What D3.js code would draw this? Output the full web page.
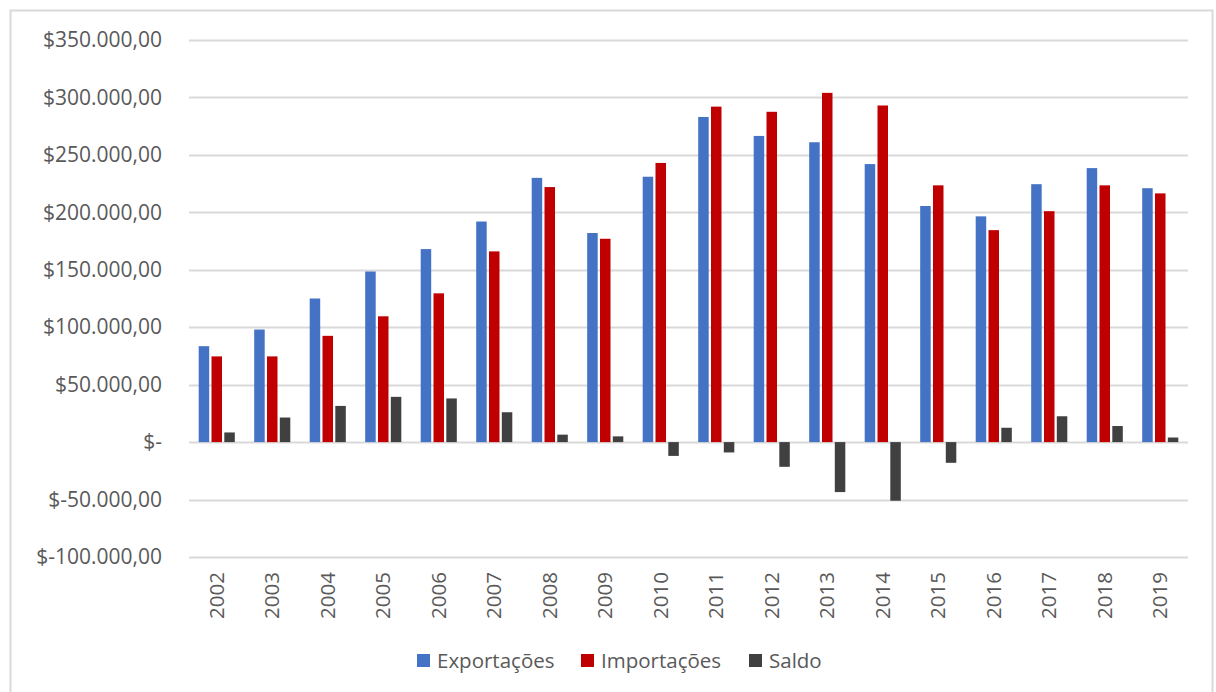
<!DOCTYPE html>
<html>
<head>
<meta charset="utf-8">
<script src="https://cdn.jsdelivr.net/npm/d3@7"></script>
<style>
  body { margin: 0; background: #fff; }
  svg text { font-family: "Open Sans", "Noto Sans", sans-serif; fill: #595959; }
</style>
</head>
<body>
<svg width="1216" height="692"></svg>
<script>
// data
var years = ["2002","2003","2004","2005","2006","2007","2008","2009","2010",
             "2011","2012","2013","2014","2015","2016","2017","2018","2019"];
var exportacoes = [83500, 98000, 125000, 148500, 168000, 192000, 230000, 182000, 231000,
                   283000, 266500, 261000, 242000, 205500, 196500, 224500, 238500, 221000];
var importacoes = [74600, 74600, 92500, 109500, 129500, 166000, 222000, 177000, 243000,
                   292000, 287500, 304000, 293000, 223500, 184500, 201000, 223500, 216500];
var saldo = [8400, 21400, 31500, 39400, 38000, 26000, 6500, 5000, -12000,
             -9000, -21500, -43500, -51000, -18000, 12500, 22500, 14000, 4000];
var seriesNames = ["Exportações", "Importações", "Saldo"];
var seriesColors = ["#4472C4", "#C00000", "#404040"];
var yTicks = [-100000, -50000, 0, 50000, 100000, 150000, 200000, 250000, 300000, 350000];

var svg = d3.select("svg"),
    margin = {top: 40, right: 28, bottom: 135, left: 189},
    w = +svg.attr("width") - margin.left - margin.right,
    h = 557 - margin.top;

// outer frame
svg.append("rect")
    .attr("x", 10.5).attr("y", 10.5)
    .attr("width", 1202).attr("height", 690)
    .attr("fill", "none")
    .attr("stroke", "#d9d9d9")
    .attr("stroke-width", 2);

var x = d3.scaleBand().domain(years).range([0, w]),
    y = d3.scaleLinear().domain([-100000, 350000]).range([h, 0]);

// "$350.000,00" style labels
function fmt(v) {
  if (v === 0) return "$-";
  var s = d3.format(",.2f")(Math.abs(v));
  s = s.replace(/,/g, "#").replace(".", ",").replace(/#/g, ".");
  return (v < 0 ? "$-" : "$") + s;
}

var g = svg.append("g")
    .attr("transform", "translate(" + margin.left + "," + margin.top + ")");

// gridlines
g.append("g")
    .attr("class", "grid")
    .selectAll("line")
    .data(yTicks)
    .enter().append("line")
    .attr("x1", 0).attr("x2", w)
    .attr("y1", function(d) { return Math.round(y(d)) + 0.5; })
    .attr("y2", function(d) { return Math.round(y(d)) + 0.5; })
    .attr("stroke", "#d9d9d9")
    .attr("stroke-width", 2);

// y axis labels
var yAxis = d3.axisLeft(y).tickValues(yTicks).tickFormat(fmt).tickSize(0).tickPadding(27);
g.append("g")
    .attr("class", "axis axis--y")
    .call(yAxis)
    .call(function(s) { s.select(".domain").remove(); })
    .selectAll("text")
    .style("font-size", "21px")
    .attr("fill", "#595959");

// bars
var barW = 10.5, step = 12.8;
var series = [exportacoes, importacoes, saldo];
series.forEach(function(vals, i) {
  g.append("g")
    .selectAll("rect")
    .data(vals)
    .enter().append("rect")
    .attr("x", function(d, j) { return x(years[j]) + x.bandwidth() / 2 + (i - 1) * step - barW / 2; })
    .attr("y", function(d) { return y(Math.max(0, d)); })
    .attr("width", barW)
    .attr("height", function(d) { return Math.abs(y(d) - y(0)); })
    .attr("fill", seriesColors[i]);
});

// x axis labels, rotated
var xAxis = d3.axisBottom(x).tickSize(0).tickPadding(0);
g.append("g")
    .attr("class", "axis axis--x")
    .attr("transform", "translate(0," + h + ")")
    .call(xAxis)
    .call(function(s) { s.select(".domain").remove(); })
    .selectAll("text")
    .style("font-size", "20.5px")
    .attr("fill", "#595959")
    .attr("text-anchor", "end")
    .attr("transform", "translate(0,15) rotate(-90)")
    .attr("dx", 0)
    .attr("dy", "0.35em")
    .attr("y", 0);

// legend
var legendX = [417, 581, 749];
var legend = svg.append("g").attr("class", "legend");
seriesNames.forEach(function(name, i) {
  legend.append("rect")
    .attr("x", legendX[i]).attr("y", 654)
    .attr("width", 13).attr("height", 13)
    .attr("fill", seriesColors[i]);
  legend.append("text")
    .attr("x", legendX[i] + 20).attr("y", 661)
    .attr("dy", "0.35em")
    .style("font-size", "20.5px")
    .text(name);
});
</script>
</body>
</html>
